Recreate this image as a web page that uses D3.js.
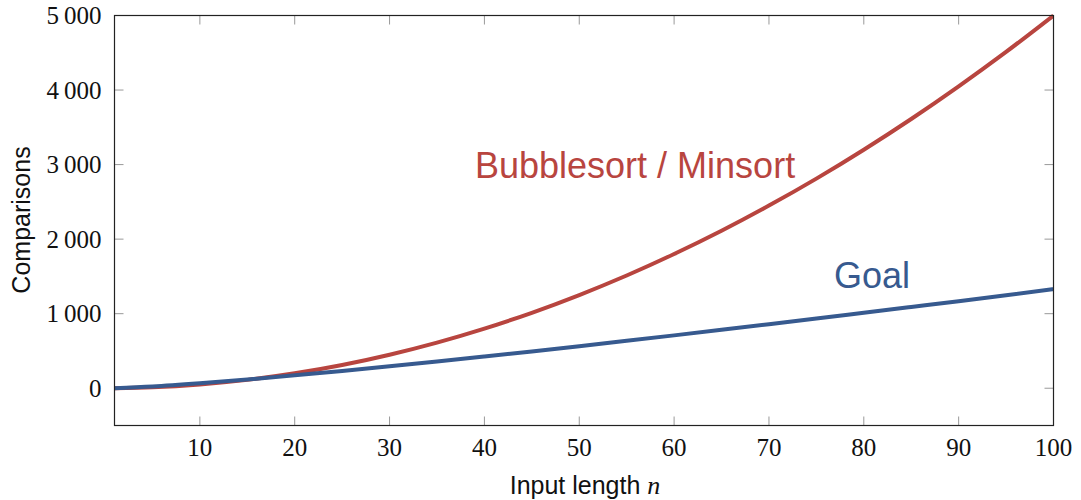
<!DOCTYPE html>
<html><head><meta charset="utf-8">
<script src="https://cdn.jsdelivr.net/npm/d3@7"></script>
<style>body{margin:0;background:#fff}</style>
</head><body>
<svg id="c" width="1081" height="500"></svg>
<script>
const inputLength = [1,5,10,15,20,25,30,35,40,45,50,55,60,65,70,75,80,85,90,95,100];
const bubbleComparisons = [0,12,50,112,200,312,450,612,800,1012,1250,1512,1800,2112,2450,2812,3200,3612,4050,4512,5000];
const goalComparisons = [0,23,66,117,173,232,294,359,426,494,564,636,709,783,858,934,1012,1090,1168,1248,1329];
const xTicks = [10,20,30,40,50,60,70,80,90,100];
const yTicks = [0,1000,2000,3000,4000,5000];

const svg = d3.select("#c");
const L=114.5, R=1053.5, T=15.5, B=425.5;
const x = d3.scaleLinear().domain([1,100]).range([L,R]);
const y = d3.scaleLinear().domain([-500,5000]).range([B,T]);
const fmt = v => v>=1000 ? Math.floor(v/1000)+"\u2009"+String(v%1000).padStart(3,"0") : String(v);

const tickCol="#999";
// ticks inward on all sides
const g = svg.append("g");
xTicks.forEach(t=>{
  g.append("line").attr("x1",x(t)).attr("x2",x(t)).attr("y1",B).attr("y2",B-9).attr("stroke",tickCol).attr("stroke-width",1);
  g.append("line").attr("x1",x(t)).attr("x2",x(t)).attr("y1",T).attr("y2",T+9).attr("stroke",tickCol).attr("stroke-width",1);
  g.append("text").attr("x",x(t)).attr("y",B+30).attr("text-anchor","middle")
   .attr("font-family","Liberation Serif").attr("font-size",25).attr("fill","#111").text(fmt(t));
});
yTicks.forEach(t=>{
  g.append("line").attr("x1",L).attr("x2",L+9).attr("y1",y(t)).attr("y2",y(t)).attr("stroke",tickCol).attr("stroke-width",1);
  g.append("line").attr("x1",R).attr("x2",R-9).attr("y1",y(t)).attr("y2",y(t)).attr("stroke",tickCol).attr("stroke-width",1);
  g.append("text").attr("x",L-13).attr("y",y(t)+8.5).attr("text-anchor","end")
   .attr("font-family","Liberation Serif").attr("font-size",25).attr("fill","#111").text(fmt(t));
});

const line = (ys)=> d3.line().x((d,i)=>x(inputLength[i])).y(d=>y(d)).curve(d3.curveMonotoneX)(ys);
const clip = svg.append("clipPath").attr("id","cp").append("rect").attr("x",L).attr("y",T-3).attr("width",R-L).attr("height",B-T+3);
svg.append("path").attr("d",line(bubbleComparisons)).attr("fill","none").attr("stroke","#b8453f").attr("stroke-width",4).attr("clip-path","url(#cp)");
svg.append("path").attr("d",line(goalComparisons)).attr("fill","none").attr("stroke","#375a8f").attr("stroke-width",4).attr("clip-path","url(#cp)");

// frame
svg.append("rect").attr("x",L).attr("y",T).attr("width",R-L).attr("height",B-T).attr("fill","none").attr("stroke","#222").attr("stroke-width",1.2);

// curve labels
svg.append("text").attr("x",475).attr("y",178).attr("font-family","Liberation Sans").attr("font-size",36).attr("fill","#b8453f").text("Bubblesort / Minsort");
svg.append("text").attr("x",834).attr("y",288).attr("font-family","Liberation Sans").attr("font-size",36).attr("fill","#375a8f").text("Goal");

// axis labels
const xl = svg.append("text").attr("x",585).attr("y",494).attr("text-anchor","middle").attr("font-family","Liberation Sans").attr("font-size",25).attr("fill","#111");
xl.append("tspan").text("Input length ");
xl.append("tspan").attr("font-family","Liberation Serif").attr("font-style","italic").attr("font-size",26).text("n");
svg.append("text").attr("transform","translate(30,220) rotate(-90)").attr("text-anchor","middle").attr("font-family","Liberation Sans").attr("font-size",25).attr("fill","#111").text("Comparisons");
</script>
</body></html>
